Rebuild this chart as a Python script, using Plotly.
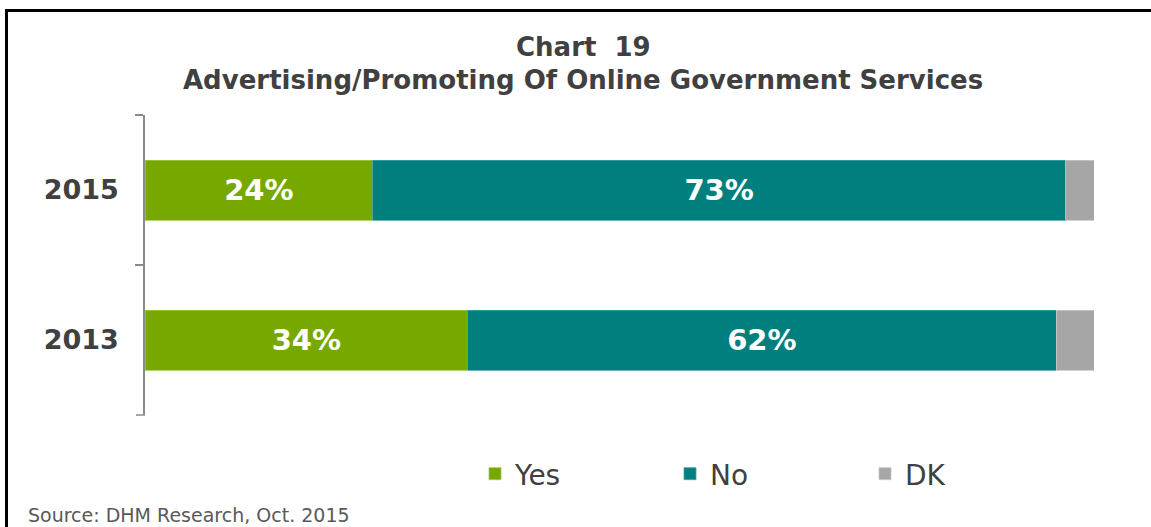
import plotly.graph_objects as go

# Survey results, share of respondents (%)
years = ["2015", "2013"]
yes_vals = [24, 34]
no_vals = [73, 62]
dk_vals = [3, 4]

series_names = ["Yes", "No", "DK"]
series_colors = ["#76A800", "#007F7F", "#A6A6A6"]
series_edges = ["#9CC94A", "#3FA3A3", "#C8C8C8"]
series_labels = [True, True, False]

W, H = 1151, 527
ML, MR, MT, MB = 145, 57, 115, 112
PW, PH = W - ML - MR, H - MT - MB


def px_x(x):
    return (x - ML) / PW


def px_y(y):
    return 1 - (y - MT) / PH


FONT = "DejaVu Sans, Verdana, sans-serif"
TXT = "#404040"
AXIS = "#8A8A8A"

fig = go.Figure()
for name, vals, color, edge, show in zip(series_names, [yes_vals, no_vals, dk_vals],
                                        series_colors, series_edges, series_labels):
    fig.add_trace(go.Bar(
        name=name,
        y=years,
        x=vals,
        orientation="h",
        marker=dict(color=color, line=dict(color=edge, width=0.8)),
        text=[f"{v}%" for v in vals] if show else None,
        texttemplate="%{text}" if show else None,
        textposition="inside" if show else "none",
        insidetextanchor="middle",
        textfont=dict(family=FONT, size=29, color="white", weight="bold"),
        hoverinfo="skip",
    ))

fig.update_layout(
    width=W, height=H,
    barmode="stack",
    bargap=0.6,
    paper_bgcolor="white",
    plot_bgcolor="white",
    margin=dict(l=ML, r=MR, t=MT, b=MB, pad=0, autoexpand=False),
    font=dict(family=FONT, color=TXT),
    uniformtext=dict(mode=False),
    xaxis=dict(range=[0, 100], visible=False, fixedrange=True),
    yaxis=dict(
        type="category",
        categoryorder="array",
        categoryarray=years,
        autorange="reversed",
        showline=True,
        linecolor=AXIS,
        linewidth=1.5,
        ticks="outside",
        tickson="boundaries",
        ticklen=8,
        tickwidth=1.5,
        tickcolor=AXIS,
        ticklabelstandoff=19,
        tickfont=dict(family=FONT, size=27, color=TXT, weight="bold"),
        showgrid=False,
        zeroline=False,
    ),
    showlegend=True,
    legend=dict(
        orientation="h",
        x=px_x(475), xanchor="left",
        y=px_y(474), yanchor="middle",
        entrywidth=150, entrywidthmode="pixels",
        font=dict(family=FONT, size=28, color=TXT),
        itemclick=False, itemdoubleclick=False,
        traceorder="normal",
        bgcolor="rgba(0,0,0,0)",
    ),
    annotations=[
        dict(text="<b>Chart  19</b>", xref="paper", yref="paper",
             x=px_x(583), y=px_y(47), xanchor="center", yanchor="middle",
             showarrow=False, font=dict(family=FONT, size=26, color=TXT)),
        dict(text="<b>Advertising/Promoting Of Online Government Services</b>",
             xref="paper", yref="paper",
             x=px_x(583), y=px_y(80), xanchor="center", yanchor="middle",
             showarrow=False, font=dict(family=FONT, size=26, color=TXT)),
        dict(text="Source: DHM Research, Oct. 2015", xref="paper", yref="paper",
             x=px_x(26), y=px_y(515), xanchor="left", yanchor="middle",
             showarrow=False, font=dict(family=FONT, size=19, color="#595959")),
    ],
    shapes=[
        # outer frame (left and top edges)
        dict(type="path", xref="paper", yref="paper",
             path=f"M {px_x(6.5)} {px_y(540)} L {px_x(6.5)} {px_y(10.5)} L {px_x(1160)} {px_y(10.5)}",
             line=dict(color="black", width=3)),
        # closing tick at the bottom end of the category axis
        dict(type="line", xref="paper", yref="paper",
             x0=px_x(136), x1=0, y0=0, y1=0,
             line=dict(color=AXIS, width=1.5)),
    ],
)

fig.write_html("out.html")
